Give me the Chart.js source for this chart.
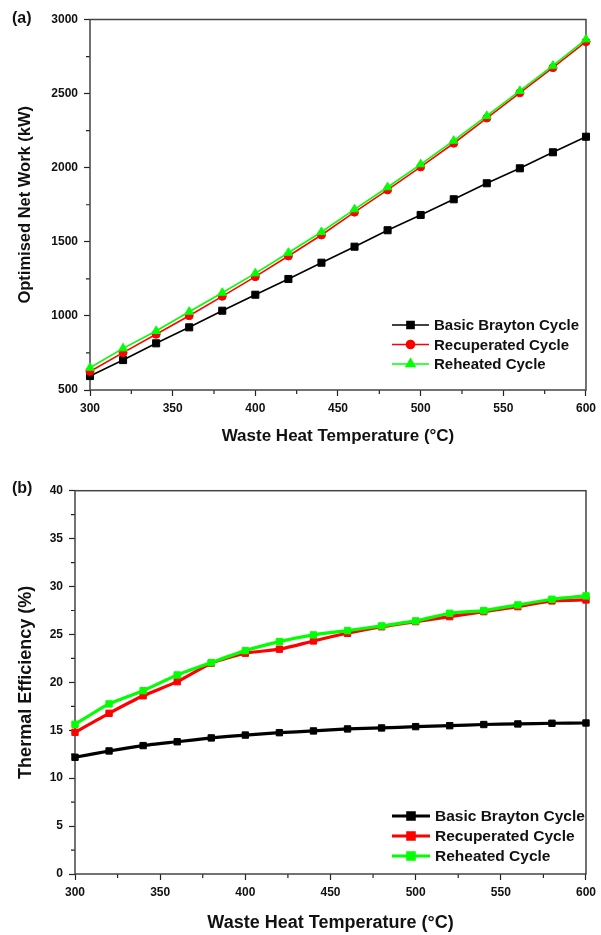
<!DOCTYPE html>
<html>
<head>
<meta charset="utf-8">
<script src="https://cdn.jsdelivr.net/npm/chart.js@4.4.1/dist/chart.umd.min.js"></script>
<style>
  body { margin: 0; background: #fff; }
  canvas { display: block; }
</style>
</head>
<body>
<canvas id="chartA" width="601" height="465"></canvas>
<canvas id="chartB" width="601" height="470"></canvas>
<script>
// waste heat temperature (°C)
var temps = [300, 320, 340, 360, 380, 400, 420, 440, 460, 480, 500, 520, 540, 560, 580, 600];

// (a) optimised net work (kW)
var workBasic  = [594, 702, 815, 923, 1035, 1143, 1249, 1359, 1467, 1578, 1681, 1787, 1895, 1996, 2104, 2209];
var workRecup  = [625, 752, 876, 1001, 1132, 1265, 1404, 1546, 1700, 1850, 2005, 2165, 2335, 2505, 2675, 2850];
var workReheat = [650, 781, 898, 1028, 1156, 1287, 1426, 1566, 1719, 1868, 2023, 2182, 2349, 2518, 2688, 2866];

// (b) thermal efficiency (%)
var effBasic  = [12.18, 12.84, 13.4, 13.8, 14.2, 14.5, 14.75, 14.93, 15.14, 15.24, 15.38, 15.48, 15.6, 15.66, 15.73, 15.76];
var effRecup  = [14.79, 16.77, 18.6, 20.07, 22.0, 23.04, 23.46, 24.32, 25.12, 25.8, 26.34, 26.86, 27.38, 27.9, 28.5, 28.6];
var effReheat = [15.62, 17.75, 19.13, 20.77, 22.06, 23.31, 24.25, 24.95, 25.4, 25.89, 26.41, 27.21, 27.49, 28.08, 28.67, 29.02];

var seriesNames = ['Basic Brayton Cycle', 'Recuperated Cycle', 'Reheated Cycle'];
var seriesColors = ['#000000', '#ff0000', '#00ff00'];

var fontFamily = "'Liberation Sans', Arial, sans-serif";

function points(ys) {
  return temps.map(function (t, i) { return { x: t, y: ys[i] }; });
}

// frame, minor ticks, panel tag and legend
var framePlugin = {
  id: 'frame',
  beforeDatasetsDraw: function (chart, args, opts) {
    var ctx = chart.ctx, a = chart.chartArea;
    var xs = chart.scales.x, ys = chart.scales.y;
    ctx.save();
    ctx.strokeStyle = '#222';
    ctx.lineWidth = 1.2;
    ctx.beginPath();
    for (var v = xs.min + opts.xMinor; v < xs.max; v += opts.xMinor * 2) {
      var px = xs.getPixelForValue(v);
      ctx.moveTo(px, a.bottom);
      ctx.lineTo(px, a.bottom + 4);
    }
    for (var w = ys.min + opts.yMinor; w < ys.max; w += opts.yMinor * 2) {
      var py = ys.getPixelForValue(w);
      ctx.moveTo(a.left, py);
      ctx.lineTo(a.left - 4, py);
    }
    ctx.stroke();
    ctx.strokeStyle = '#444';
    ctx.lineWidth = 1.5;
    ctx.strokeRect(a.left, a.top, a.right - a.left, a.bottom - a.top);
    ctx.restore();
  },
  afterDraw: function (chart, args, opts) {
    var ctx = chart.ctx;
    ctx.save();
    ctx.fillStyle = '#111';
    ctx.font = 'bold 16px ' + fontFamily;
    ctx.textBaseline = 'middle';
    ctx.fillText(opts.tag, opts.tagX, opts.tagY);

    var leg = opts.legend;
    ctx.font = 'bold ' + leg.size + 'px ' + fontFamily;
    chart.data.datasets.forEach(function (ds, i) {
      var y = leg.y + i * leg.rowH;
      ctx.strokeStyle = ds.borderColor;
      ctx.fillStyle = ds.backgroundColor;
      ctx.lineWidth = ds.borderWidth;
      ctx.beginPath();
      ctx.moveTo(leg.x, y);
      ctx.lineTo(leg.x + leg.lineLen, y);
      ctx.stroke();
      Chart.helpers.drawPoint(ctx, { pointStyle: ds.pointStyle, radius: ds.pointRadius, borderWidth: 1, rotation: 0 }, leg.x + leg.lineLen / 2, y);
      ctx.fillStyle = '#111';
      ctx.fillText(ds.label, leg.x + leg.lineLen + leg.gap, y + 1);
    });
    ctx.restore();
  }
};

function makeOptions(cfg) {
  return {
    responsive: false,
    maintainAspectRatio: false,
    animation: false,
    layout: { padding: cfg.padding },
    scales: {
      x: {
        type: 'linear',
        min: 300,
        max: 600,
        afterFit: function (scale) { scale.height = cfg.xHeight; },
        grid: { drawOnChartArea: false, drawTicks: true, tickLength: 6, tickColor: '#222', tickWidth: 1.2 },
        border: { display: false },
        ticks: {
          stepSize: 50,
          padding: 5,
          color: '#111',
          maxRotation: 0,
          callback: function (v) { return String(v); },
          font: { family: fontFamily, size: 12, weight: 'bold' }
        },
        title: {
          display: true,
          text: 'Waste Heat Temperature (°C)',
          color: '#111',
          padding: { top: 0, bottom: cfg.xTitlePad },
          font: { family: fontFamily, size: cfg.titleSize, weight: 'bold' }
        }
      },
      y: {
        min: cfg.yMin,
        max: cfg.yMax,
        afterFit: function (scale) { scale.width = cfg.yWidth; },
        grid: { drawOnChartArea: false, drawTicks: true, tickLength: 6, tickColor: '#222', tickWidth: 1.2 },
        border: { display: false },
        ticks: {
          stepSize: cfg.yStep,
          padding: 6,
          color: '#111',
          callback: function (v) { return String(v); },
          font: { family: fontFamily, size: 12, weight: 'bold' }
        },
        title: {
          display: true,
          text: cfg.yTitle,
          color: '#111',
          padding: { top: cfg.yTitlePad, bottom: 0 },
          font: { family: fontFamily, size: cfg.yTitleSize, weight: 'bold' }
        }
      }
    },
    plugins: {
      legend: { display: false },
      tooltip: { enabled: false },
      frame: cfg.frame
    }
  };
}

// (a) net work
var styleA = ['rect', 'circle', 'triangle'];
var radiusA = [5, 4, 5];
var dataA = [workBasic, workRecup, workReheat];
var chartA = new Chart(document.getElementById('chartA').getContext('2d'), {
  type: 'line',
  data: {
    datasets: seriesNames.map(function (name, i) {
      return {
        label: name,
        data: points(dataA[i]),
        borderColor: seriesColors[i],
        backgroundColor: seriesColors[i],
        borderWidth: 1.6,
        pointStyle: styleA[i],
        pointRadius: radiusA[i],
        pointBorderWidth: 1,
        tension: 0,
        clip: false,
        order: 2 - i
      };
    })
  },
  options: makeOptions({
    padding: { left: 0, top: 19.5, right: 11, bottom: 0 },
    xHeight: 75,
    yWidth: 90,
    yMin: 500, yMax: 3000, yStep: 500,
    yTitle: 'Optimised Net Work (kW)',
    titleSize: 17,
    yTitleSize: 16.5,
    xTitlePad: 18,
    yTitlePad: 16,
    frame: {
      xMinor: 25, yMinor: 250,
      tag: '(a)', tagX: 12, tagY: 19,
      legend: { x: 392, y: 325, rowH: 19.5, lineLen: 37, gap: 5, size: 15 }
    }
  }),
  plugins: [framePlugin]
});

// (b) thermal efficiency
var dataB = [effBasic, effRecup, effReheat];
var chartB = new Chart(document.getElementById('chartB').getContext('2d'), {
  type: 'line',
  data: {
    datasets: seriesNames.map(function (name, i) {
      return {
        label: name,
        data: points(dataB[i]),
        borderColor: seriesColors[i],
        backgroundColor: seriesColors[i],
        borderWidth: 3.2,
        pointStyle: 'rect',
        pointRadius: 4.5,
        pointBorderWidth: 1,
        tension: 0.2,
        clip: false,
        order: 2 - i
      };
    })
  },
  options: makeOptions({
    padding: { left: 0, top: 25.7, right: 12, bottom: 0 },
    xHeight: 61,
    yWidth: 75,
    yMin: 0, yMax: 40, yStep: 5,
    yTitle: 'Thermal Efficiency (%)',
    titleSize: 18,
    yTitleSize: 18,
    xTitlePad: 1.5,
    yTitlePad: 15,
    frame: {
      xMinor: 25, yMinor: 2.5,
      tag: '(b)', tagX: 12, tagY: 24,
      legend: { x: 392, y: 351, rowH: 20, lineLen: 38, gap: 5, size: 15.5 }
    }
  }),
  plugins: [framePlugin]
});
</script>
</body>
</html>
